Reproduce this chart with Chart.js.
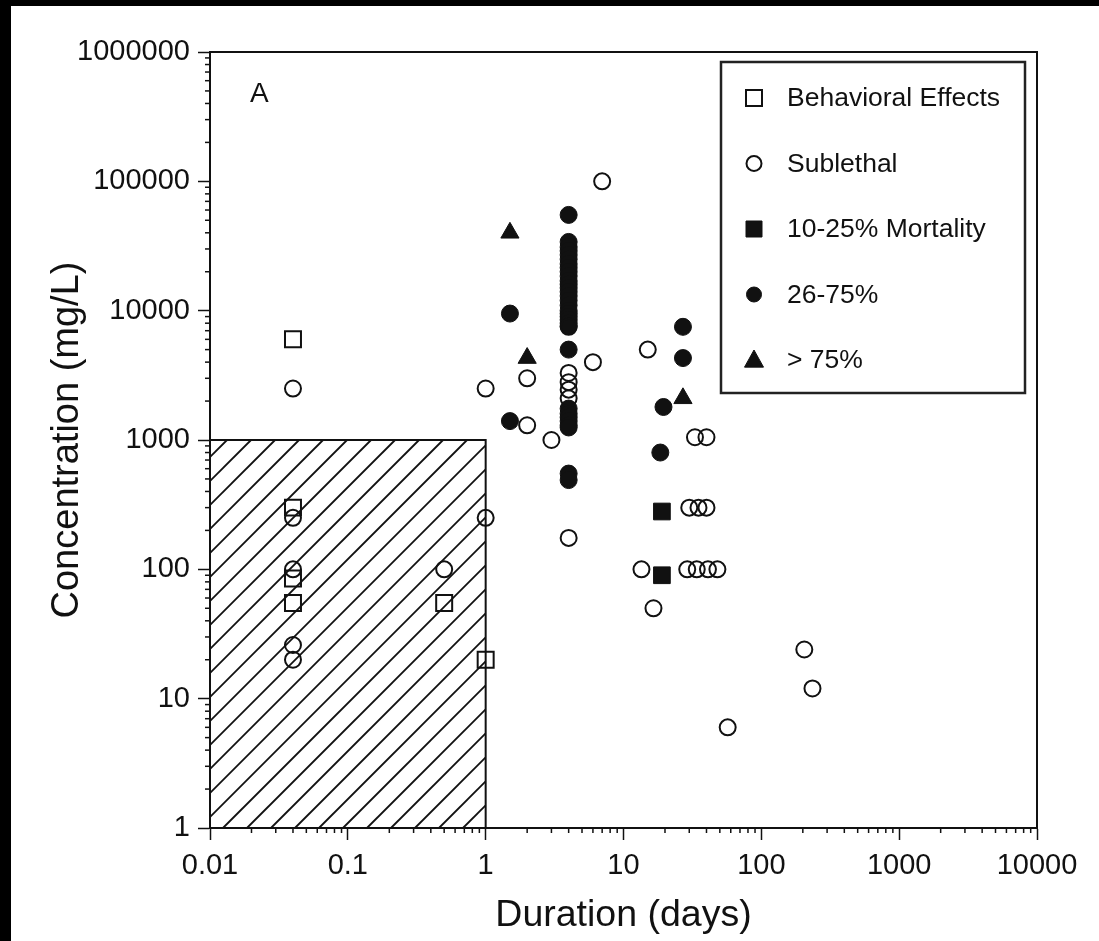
<!DOCTYPE html>
<html><head><meta charset="utf-8">
<script src="https://cdn.jsdelivr.net/npm/chart.js@4.4.1/dist/chart.umd.min.js"></script>
<style>
html,body{margin:0;padding:0;background:#000;width:1099px;height:941px;overflow:hidden;}
#wrap{position:absolute;left:11px;top:6px;width:1088px;height:935px;background:#fff;}
</style></head><body>
<div id="wrap"><canvas id="c"></canvas></div>
<script>
// ---------- data ----------
const behavioralDuration = [0.04, 0.04, 0.04, 0.04, 0.5, 1];
const behavioralConc     = [6000, 300, 85, 55, 55, 20];

const sublethalDuration = [0.04, 0.04, 0.04, 0.04, 0.04, 0.5, 1, 1, 2, 2, 3, 4, 4, 4, 4, 4, 4, 6, 7, 15, 13.5, 16.5, 33, 40, 30, 35, 40, 29, 34, 41, 48, 205, 235, 57];
const sublethalConc     = [2500, 250, 100, 26, 20, 100, 2500, 250, 3000, 1300, 1000, 3300, 2800, 2450, 2100, 7500, 175, 4000, 100000, 5000, 100, 50, 1050, 1050, 300, 300, 300, 100, 100, 100, 100, 24, 12, 6];

const mort10Duration = [19, 19];
const mort10Conc     = [280, 90];

const mort26Duration = [4, 4,4,4,4,4,4,4,4,4,4,4,4,4,4,4,4,4,4,4,4,4,4, 1.5, 4, 1.5, 4,4,4,4,4,4, 4, 4, 27, 27, 19.5, 18.5];
const mort26Conc     = [55000, 34000, 31000, 29000, 27000, 25000, 23000, 21500, 20000, 18500, 17000, 16000, 15000, 14000, 13000, 12000, 11000, 10000, 9500, 9000, 8500, 8000, 7600, 9500, 5000, 1400, 1750, 1600, 1500, 1400, 1300, 1250, 550, 490, 7500, 4300, 1800, 800];

const mort75Duration = [1.5, 2, 27];
const mort75Conc     = [40000, 4300, 2100];

const seriesLabels = ['Behavioral Effects', 'Sublethal', '10-25% Mortality', '26-75%', '> 75%'];

const xTickValues = [0.01, 0.1, 1, 10, 100, 1000, 10000];
const xTickLabels = ['0.01', '0.1', '1', '10', '100', '1000', '10000'];
const yTickValues = [1, 10, 100, 1000, 10000, 100000, 1000000];
const yTickLabels = ['1', '10', '100', '1000', '10000', '100000', '1000000'];
const minorMultipliers = [2, 3, 4, 5, 6, 7, 8, 9];

const hatchDuration = [0.01, 1];
const hatchConc = [1, 1000];

const panelLabel = 'A';
const xTitle = 'Duration (days)';
const yTitle = 'Concentration (mg/L)';

// ---------- helpers ----------
const INK = '#111';
const FONT = "'Liberation Sans', Arial, Helvetica, sans-serif";
const pts = (xs, ys) => xs.map((x, i) => ({x: x, y: ys[i]}));

const datasets = [
  {label: seriesLabels[0], data: pts(behavioralDuration, behavioralConc), pointStyle: 'rect', pointRadius: 11.3, borderWidth: 2, borderColor: INK, backgroundColor: 'rgba(0,0,0,0)', _filled: false},
  {label: seriesLabels[1], data: pts(sublethalDuration, sublethalConc), pointStyle: 'circle', pointRadius: 8, borderWidth: 2, borderColor: INK, backgroundColor: 'rgba(0,0,0,0)', _filled: false},
  {label: seriesLabels[2], data: pts(mort10Duration, mort10Conc), pointStyle: 'rect', pointRadius: 11.8, borderWidth: 1, borderColor: INK, backgroundColor: INK, _filled: true},
  {label: seriesLabels[3], data: pts(mort26Duration, mort26Conc), pointStyle: 'circle', pointRadius: 8.5, borderWidth: 1, borderColor: INK, backgroundColor: INK, _filled: true},
  {label: seriesLabels[4], data: pts(mort75Duration, mort75Conc), pointStyle: 'triangle', pointRadius: 10.5, borderWidth: 1, borderColor: INK, backgroundColor: INK, _filled: true}
];

const hatchPlugin = {
  id: 'hatch',
  beforeDatasetsDraw(chart) {
    const {ctx, scales: {x, y}} = chart;
    const x0 = x.getPixelForValue(hatchDuration[0]);
    const x1 = x.getPixelForValue(hatchDuration[1]);
    const yTop = y.getPixelForValue(hatchConc[1]);
    const yBot = y.getPixelForValue(hatchConc[0]);
    const W = x1 - x0, H = yBot - yTop;
    ctx.save();
    ctx.beginPath();
    ctx.rect(x0, yTop, W, H);
    ctx.clip();
    ctx.strokeStyle = INK;
    ctx.lineWidth = 1.9;
    const s = 24, phase = 13;
    for (let k = -Math.ceil(H / s) - 1; k <= Math.ceil(W / s) + 1; k++) {
      const bx = x0 + phase + k * s;
      ctx.beginPath();
      ctx.moveTo(bx, yBot);
      ctx.lineTo(bx + H, yBot - H);
      ctx.stroke();
    }
    ctx.restore();
    ctx.save();
    ctx.strokeStyle = INK;
    ctx.lineWidth = 2;
    ctx.beginPath();
    ctx.moveTo(x0, yTop);
    ctx.lineTo(x1, yTop);
    ctx.lineTo(x1, yBot);
    ctx.stroke();
    ctx.restore();
  }
};

function drawMarker(ctx, style, filled, px, py, r) {
  ctx.beginPath();
  if (style === 'circle') {
    ctx.arc(px, py, r, 0, Math.PI * 2);
  } else if (style === 'rect') {
    ctx.rect(px - r, py - r, 2 * r, 2 * r);
  } else {
    ctx.moveTo(px, py - r * 1.05);
    ctx.lineTo(px + r, py + r * 0.75);
    ctx.lineTo(px - r, py + r * 0.75);
    ctx.closePath();
  }
  if (filled) ctx.fill();
  ctx.stroke();
}

const decorPlugin = {
  id: 'decor',
  afterDraw(chart) {
    const {ctx, chartArea: a, scales: {x, y}} = chart;
    ctx.save();
    // minor ticks
    ctx.strokeStyle = INK;
    ctx.lineWidth = 1.5;
    for (let i = 0; i < xTickValues.length - 1; i++) {
      minorMultipliers.forEach(m => {
        const px = x.getPixelForValue(xTickValues[i] * m);
        ctx.beginPath(); ctx.moveTo(px, a.bottom); ctx.lineTo(px, a.bottom + 5); ctx.stroke();
      });
    }
    for (let i = 0; i < yTickValues.length - 1; i++) {
      minorMultipliers.forEach(m => {
        const py = y.getPixelForValue(yTickValues[i] * m);
        ctx.beginPath(); ctx.moveTo(a.left, py); ctx.lineTo(a.left - 5, py); ctx.stroke();
      });
    }
    // frame
    ctx.lineWidth = 2;
    ctx.strokeRect(a.left, a.top, a.right - a.left, a.bottom - a.top);
    // panel label
    ctx.fillStyle = INK;
    ctx.font = '28px ' + FONT;
    ctx.textBaseline = 'middle';
    ctx.textAlign = 'left';
    ctx.fillText(panelLabel, a.left + 40, a.top + 42);
    // legend box
    const bl = a.right - 316, bt = a.top + 10, bw = 304, bh = 331;
    ctx.fillStyle = '#fff';
    ctx.fillRect(bl, bt, bw, bh);
    ctx.strokeStyle = '#222';
    ctx.lineWidth = 2.5;
    ctx.strokeRect(bl, bt, bw, bh);
    ctx.font = '26.5px ' + FONT;
    chart.data.datasets.forEach((ds, i) => {
      const ry = bt + 36 + i * 65.5;
      ctx.strokeStyle = INK;
      ctx.fillStyle = INK;
      ctx.lineWidth = ds._filled ? 1 : 2;
      const r = ds.pointStyle === 'triangle' ? 9.5 : (ds.pointStyle === 'rect' ? 8 : 7.5);
      drawMarker(ctx, ds.pointStyle, ds._filled, bl + 33, ry, r);
      ctx.fillStyle = INK;
      ctx.textBaseline = 'middle';
      ctx.fillText(ds.label, bl + 66, ry + 1);
    });
    ctx.restore();
  }
};

new Chart(document.getElementById('c'), {
  type: 'scatter',
  data: {datasets: datasets},
  plugins: [hatchPlugin, decorPlugin],
  options: {
    responsive: true,
    maintainAspectRatio: false,
    animation: false,
    events: [],
    layout: {padding: {left: 0, top: 46, right: 62, bottom: 0}},
    plugins: {legend: {display: false}, tooltip: {enabled: false}},
    scales: {
      x: {
        type: 'logarithmic',
        min: xTickValues[0],
        max: xTickValues[xTickValues.length - 1],
        afterBuildTicks: s => { s.ticks = xTickValues.map(v => ({value: v, major: true})); },
        afterFit: s => { s.height = 113; },
        ticks: {
          autoSkip: false, maxRotation: 0, minRotation: 0, padding: 9, color: INK,
          font: {family: FONT, size: 29},
          callback: (v) => { const i = xTickValues.indexOf(v); return i >= 0 ? xTickLabels[i] : ''; }
        },
        grid: {display: true, drawOnChartArea: false, drawTicks: true, tickLength: 12, tickColor: INK, tickWidth: 1.5},
        border: {display: true, color: INK, width: 2},
        title: {display: true, text: xTitle, color: INK, font: {family: FONT, size: 37.5}, padding: {top: 0, bottom: 3}}
      },
      y: {
        type: 'logarithmic',
        min: yTickValues[0],
        max: yTickValues[yTickValues.length - 1],
        afterBuildTicks: s => { s.ticks = yTickValues.map(v => ({value: v, major: true})); },
        afterFit: s => { s.width = 199; },
        ticks: {
          autoSkip: false, padding: 8, color: INK,
          font: {family: FONT, size: 29},
          callback: (v) => { const i = yTickValues.indexOf(v); return i >= 0 ? yTickLabels[i] : ''; }
        },
        grid: {display: true, drawOnChartArea: false, drawTicks: true, tickLength: 12, tickColor: INK, tickWidth: 1.5},
        border: {display: true, color: INK, width: 2},
        title: {display: true, text: yTitle, color: INK, font: {family: FONT, size: 38}, padding: {top: 34, bottom: 0}}
      }
    }
  }
});
</script>
</body></html>
